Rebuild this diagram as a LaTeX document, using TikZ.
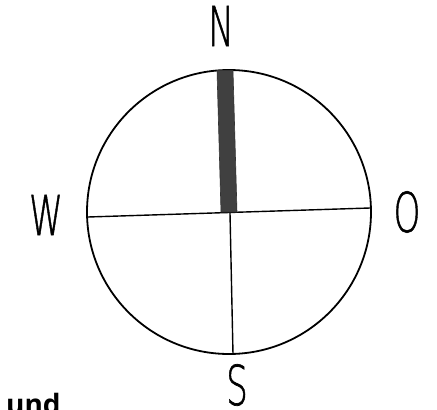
\documentclass[tikz,border=0pt]{standalone}
\usepackage{fontspec}
\newfontfamily\compassfont{DejaVu Sans ExtraLight}[FakeBold=1.2]
\newfontfamily\undfont{Open Sans}
\begin{document}
\begin{tikzpicture}[x=1pt,y=-1pt,
  dirlabel/.style={anchor=base,inner sep=0pt,xscale=0.62,text depth=0pt,
    font=\compassfont\fontsize{55}{60}\selectfont},
  ring/.style={line width=1.8pt},
  axis/.style={line width=1.4pt},
  needle/.style={fill=black!75,draw=black!80,line width=0.6pt}]
\useasboundingbox (0,0) rectangle (437,410);
\node[circle,draw,ring,minimum size=284pt,inner sep=0pt] (ring) at (229,212) {};
\coordinate (wpt) at (88,217);
\coordinate (ept) at (370,208);
\coordinate (mid) at (230,213);
\coordinate (spt) at (233,354);
\draw[axis] (wpt) -- (ept);
\draw[axis] (mid) -- (spt);
\draw[needle] (217,70.5) -- (233,70.5) -- (237,212) -- (221,212) -- cycle;
\node[dirlabel] (n) at (221,46) {N};
\node[dirlabel] (w) at (46,235) {W};
\node[dirlabel] (o) at (407,232) {O};
\node[dirlabel] (s) at (237,405) {S};
\node[anchor=base west,inner sep=0pt,font=\undfont\bfseries\fontsize{28}{30}\selectfont] (und) at (6,414) {und};
\end{tikzpicture}
\end{document}
